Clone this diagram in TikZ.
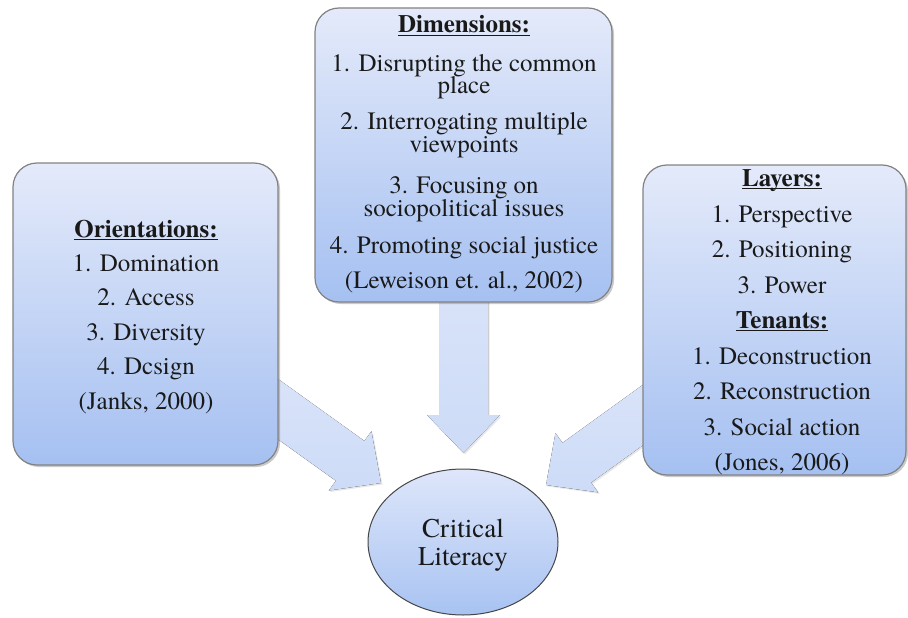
\documentclass[tikz,border=0pt]{standalone}
\usepackage{fontspec}
\setmainfont{texgyretermes-regular.otf}[BoldFont=texgyretermes-bold.otf]
\usetikzlibrary{calc,shapes.geometric,shadows,backgrounds}
\definecolor{boxtop}{RGB}{228,234,250}
\definecolor{boxbot}{RGB}{165,192,241}
\definecolor{boxline}{RGB}{130,130,130}
\definecolor{elltop}{RGB}{222,230,250}
\definecolor{ellbot}{RGB}{168,195,242}
\definecolor{ellline}{RGB}{70,70,70}
\definecolor{arrtop}{RGB}{226,234,251}
\definecolor{arrbot}{RGB}{205,219,247}
\definecolor{txt}{RGB}{25,25,25}
\newcommand\hdr[1]{\setbox0\hbox{\textbf{#1}}\rlap{\rule[-3pt]{\wd0}{1.4pt}}\box0}
\newcommand\blockarrow[3]{%
  \coordinate (#3h) at ($(#2)!38pt!(#1)$);
  \fill[arrowsty] ($(#1)!24.5pt!90:(#2)$) -- ($(#3h)!24.5pt!90:(#2)$) --
    ($(#3h)!36.5pt!90:(#2)$) -- (#2) -- ($(#3h)!36.5pt!-90:(#2)$) --
    ($(#3h)!24.5pt!-90:(#2)$) -- ($(#1)!24.5pt!-90:(#2)$) -- cycle;}
\tikzset{
  panel/.style={draw=boxline, line width=1.2pt, rounded corners=24pt,
    top color=boxtop, bottom color=boxbot, inner sep=0pt,
    drop shadow={shadow xshift=2pt, shadow yshift=-2pt, opacity=0.35, fill=black!60}},
  ln/.style={anchor=base, inner sep=0pt, text=txt, font=\fontsize{25}{30}\selectfont},
  bigln/.style={anchor=base, inner sep=0pt, text=txt, font=\fontsize{27}{30}\selectfont},
  arrowsty/.style={top color=arrtop, bottom color=arrbot,
    drop shadow={shadow xshift=1.5pt, shadow yshift=-1.5pt, opacity=0.18}},
}
\begin{document}
\begin{tikzpicture}[x=1pt,y=-1pt]
\useasboundingbox (0,0) rectangle (908,618);
% panels
\node[panel, minimum width=265pt, minimum height=302pt] (orient) at (145.5,314) {};
\node[panel, minimum width=297pt, minimum height=294pt] (dims) at (463.5,155) {};
\node[panel, minimum width=263pt, minimum height=310pt] (layers) at (774.5,320) {};
\node[ellipse, draw=ellline, line width=1pt, top color=elltop, bottom color=ellbot,
  minimum width=190pt, minimum height=146pt, inner sep=0pt] (cl) at (463,542) {};
% arrow tips
\coordinate (tipL) at (381,483);
\coordinate (tipM) at (463.5,453);
\coordinate (tipR) at (546,485);
\begin{scope}[on background layer]
  \blockarrow{orient}{tipL}{aL}
  \blockarrow{dims}{tipM}{aM}
  \blockarrow{layers}{tipR}{aR}
\end{scope}
% left text
\node[ln] (o0) at (146,237) {\hdr{Orientations:}};
\node[ln] (o1) at (146,271) {1. Domination};
\node[ln] (o2) at (146,305) {2. Access};
\node[ln] (o3) at (146,340) {3. Diversity};
\node[ln] (o4) at (146,374) {4. Dcsign};
\node[ln] (o5) at (146,409) {(Janks, 2000)};
% middle text
\node[ln] (d0) at (464,33) {\hdr{Dimensions:}};
\node[ln] (d1) at (464,71) {1. Disrupting the common};
\node[ln] (d1b) at (464,94) {place};
\node[ln] (d2) at (464,129) {2. Interrogating multiple};
\node[ln] (d2b) at (464,152) {viewpoints};
\node[ln] (d3) at (464,193) {3. Focusing on};
\node[ln] (d3b) at (464,216) {sociopolitical issues};
\node[ln] (d4) at (464,253) {4. Promoting social justice};
\node[ln] (d5) at (464,288) {(Leweison et. al., 2002)};
% right text
\node[ln] (r0) at (782,186) {\hdr{Layers:}};
\node[ln] (r1) at (782,222) {1. Perspective};
\node[ln] (r2) at (782,257) {2. Positioning};
\node[ln] (r3) at (782,293) {3. Power};
\node[ln] (r4) at (782,328) {\hdr{Tenants:}};
\node[ln] (r5) at (782,364) {1. Deconstruction};
\node[ln] (r6) at (782,399) {2. Reconstruction};
\node[ln] (r7) at (782,435) {3. Social action};
\node[ln] (r8) at (782,470) {(Jones, 2006)};
% ellipse text
\node[bigln] (c1) at (463,537) {Critical};
\node[bigln] (c2) at (463,565) {Literacy};
\end{tikzpicture}
\end{document}
